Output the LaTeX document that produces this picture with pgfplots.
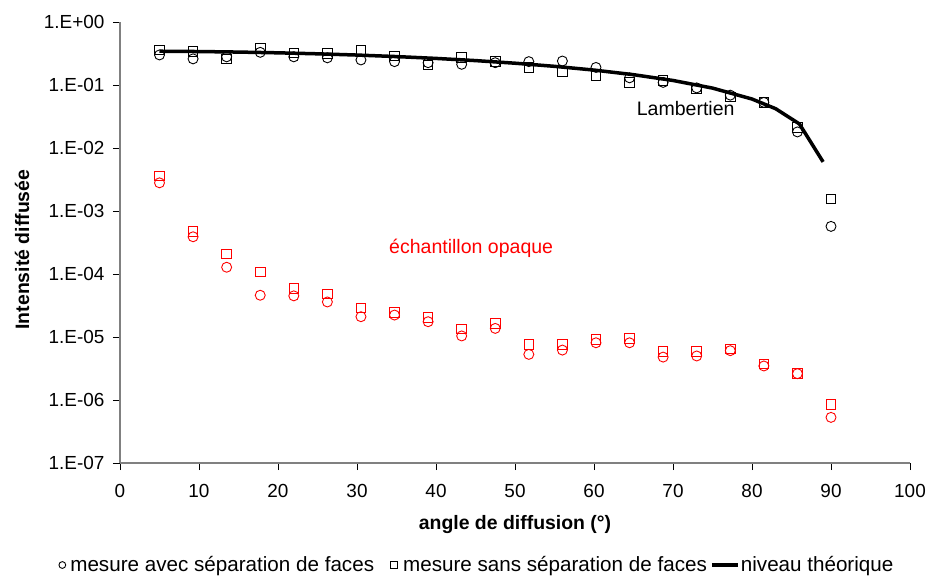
\documentclass[border=0pt]{standalone}
\usepackage{pgfplots}
\pgfplotsset{compat=1.18}
\usepackage{fontspec}
\setmainfont{Liberation Sans}
\definecolor{axgray}{RGB}{128,128,128}

\pgfplotsset{
  legcirc/.style={legend image code/.code={\path[draw=none,fill=none] (-3.6bp,0bp) rectangle (8bp,0.1bp);
    \draw[##1, mark size=3.4bp] plot coordinates {(0bp,0bp)};}},
  legsq/.style={legend image code/.code={\path[draw=none,fill=none] (-20bp,0bp) rectangle (9bp,0.1bp);
    \draw[##1, mark size=3.3bp] plot coordinates {(0bp,0bp)};}},
  legline/.style={legend image code/.code={\path[draw=none,fill=none] (-5bp,0bp) rectangle (29bp,0.1bp);
    \draw[##1] (0bp,0bp) -- (26bp,0bp);}},
}

\pgfplotstableread{
x y
5 0.30
9.25 0.26
13.5 0.28
17.75 0.33
22 0.28
26.25 0.27
30.5 0.25
34.75 0.235
39 0.226
43.25 0.213
47.5 0.226
51.75 0.235
56 0.24
60.25 0.19
64.5 0.13
68.75 0.11
73 0.09
77.25 0.069
81.5 0.053
85.75 0.018
90 0.00057
}\blackcirc

\pgfplotstableread{
x y
5 0.36
9.25 0.34
13.5 0.26
17.75 0.38
22 0.325
26.25 0.318
30.5 0.35
34.75 0.29
39 0.207
43.25 0.275
47.5 0.235
51.75 0.19
56 0.16
60.25 0.14
64.5 0.11
68.75 0.117
73 0.086
77.25 0.065
81.5 0.053
85.75 0.021
90 0.00155
}\blacksq

\pgfplotstableread{
x y
5 0.3437
10 0.3398
15 0.3332
20 0.3242
25 0.3127
30 0.2988
35 0.2826
40 0.2643
45 0.2440
50 0.2218
55 0.1979
60 0.1725
65 0.1458
70 0.1180
75 0.0893
80 0.0599
83 0.0420
86 0.0241
89 0.00602
}\theory

\pgfplotstableread{
x y
5 2.8e-3
9.25 3.9e-4
13.5 1.28e-4
17.75 4.6e-5
22 4.5e-5
26.25 3.6e-5
30.5 2.1e-5
34.75 2.23e-5
39 1.75e-5
43.25 1.04e-5
47.5 1.37e-5
51.75 5.3e-6
56 6.2e-6
60.25 8.1e-6
64.5 8.1e-6
68.75 4.8e-6
73 5.0e-6
77.25 6.07e-6
81.5 3.47e-6
85.75 2.62e-6
90 5.3e-7
}\redcirc

\pgfplotstableread{
x y
5 3.6e-3
9.25 4.7e-4
13.5 2.07e-4
17.75 1.08e-4
22 5.9e-5
26.25 4.8e-5
30.5 2.9e-5
34.75 2.47e-5
39 2.03e-5
43.25 1.34e-5
47.5 1.65e-5
51.75 7.65e-6
56 7.6e-6
60.25 9.2e-6
64.5 9.5e-6
68.75 5.85e-6
73 5.85e-6
77.25 6.5e-6
81.5 3.73e-6
85.75 2.62e-6
90 8.5e-7
}\redsq

\begin{document}
\begin{tikzpicture}
\begin{semilogyaxis}[
  at={(120bp,116bp)}, anchor=south west,
  scale only axis, width=790bp, height=441bp,
  xmin=0, xmax=100, ymin=1e-7, ymax=1,
  xtick={0,10,...,100},
  ytick={1e-7,1e-6,1e-5,1e-4,1e-3,1e-2,1e-1,1},
  yticklabels={1.E-07,1.E-06,1.E-05,1.E-04,1.E-03,1.E-02,1.E-01,1.E+00},
  yminorticks=false,
  axis lines=left,
  axis line style={-, draw=axgray, line width=1.5bp},
  tick align=outside, major tick length=7bp,
  tick style={black, line width=0.9bp},
  /pgf/number format/assume math mode=true,
  ticklabel style={font=\fontsize{19}{22}\selectfont},
  yticklabel style={xshift=-5bp},
  xticklabel style={yshift=-11bp},
  xlabel={angle de diffusion (°)},
  ylabel={Intensité diffusée},
  every axis x label/.style={at={(axis description cs:0.5,-0.14)}, anchor=center, font=\bfseries\fontsize{19.5}{23}\selectfont},
  every axis y label/.style={at={(axis description cs:-0.124,0.484)}, anchor=center, rotate=90, font=\bfseries\fontsize{19.5}{23}\selectfont},
  legend columns=3,
  legend style={at={(axis description cs:-0.0778,-0.2313)}, anchor=west,
    draw=none, fill=none, inner sep=0pt, column sep=0pt,
    nodes={inner sep=0pt}, font=\fontsize{20.7}{24}\selectfont},
  clip=false,
]
\addplot[only marks, mark=o, mark size=5bp, black, line width=0.9bp, legcirc]
  table[x=x,y=y]{\blackcirc};
\addlegendentry{mesure avec séparation de faces}
\addplot[only marks, mark=square, mark size=4.8bp, black, line width=0.9bp, legsq]
  table[x=x,y=y]{\blacksq};
\addlegendentry{mesure sans séparation de faces}
\addplot[black, line width=3.5bp, no marks, legline]
  table[x=x,y=y]{\theory};
\addlegendentry{niveau théorique}
\addplot[only marks, mark=o, mark size=5bp, red, line width=0.9bp, forget plot]
  table[x=x,y=y]{\redcirc};
\addplot[only marks, mark=square, mark size=4.8bp, red, line width=0.9bp, forget plot]
  table[x=x,y=y]{\redsq};
\node[anchor=west, inner sep=0pt, font=\fontsize{19.6}{23}\selectfont] at (axis cs:65.4,0.0431) {Lambertien};
\node[anchor=west, inner sep=0pt, red, font=\fontsize{19.6}{23}\selectfont] at (axis cs:34.05,2.59e-4) {échantillon opaque};
\end{semilogyaxis}
\pgfresetboundingbox
\path[use as bounding box] (0bp,0bp) rectangle (936bp,579bp);
\end{tikzpicture}
\end{document}
